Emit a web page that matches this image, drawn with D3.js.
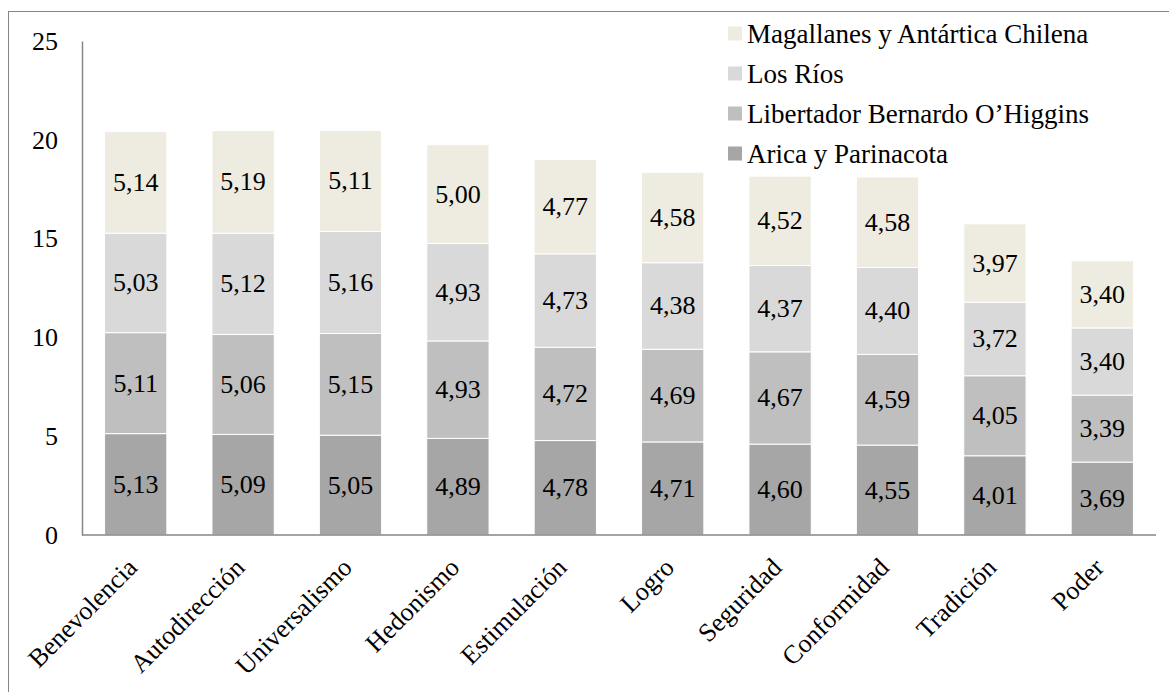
<!DOCTYPE html>
<html><head><meta charset="utf-8">
<script src="https://cdn.jsdelivr.net/npm/d3@7"></script>
<style>body{margin:0;background:#fff}svg{display:block}</style>
</head><body><svg id="c" width="1169" height="692"></svg>
<script>
const categories = ["Benevolencia","Autodirección","Universalismo","Hedonismo","Estimulación","Logro","Seguridad","Conformidad","Tradición","Poder"];
const seriesNames = ["Arica y Parinacota","Libertador Bernardo O’Higgins","Los Ríos","Magallanes y Antártica Chilena"];
const arica = [5.13,5.09,5.05,4.89,4.78,4.71,4.60,4.55,4.01,3.69];
const ohiggins = [5.11,5.06,5.15,4.93,4.72,4.69,4.67,4.59,4.05,3.39];
const losRios = [5.03,5.12,5.16,4.93,4.73,4.38,4.37,4.40,3.72,3.40];
const magallanes = [5.14,5.19,5.11,5.00,4.77,4.58,4.52,4.58,3.97,3.40];
const yTicks = [0,5,10,15,20,25];
const colors = ["#a6a6a6","#bfbfbf","#d9d9d9","#eeece1"];

const FONT = '"Liberation Serif"';
const FS = 26;
const svg = d3.select("#c");
const seriesVals = [arica, ohiggins, losRios, magallanes];
const table = categories.map((c,i)=>{const o={cat:c}; seriesNames.forEach((s,j)=>o[s]=seriesVals[j][i]); return o;});
const stack = d3.stack().keys(seriesNames)(table);

const L=82, R=1156, T=41, B=535;
const x = d3.scaleBand().domain(categories).range([L,R]).paddingInner(0.42).paddingOuter(0.21);
const y = d3.scaleLinear().domain([0,25]).range([B,T]);

svg.append("rect").attr("x",8.5).attr("y",11.5).attr("width",1200).attr("height",700).attr("fill","none").attr("stroke","#868686").attr("stroke-width",1);

const g = svg.append("g");
stack.forEach((layer,j)=>{
  g.selectAll(null).data(layer).enter().append("rect")
    .attr("x",d=>x(d.data.cat)).attr("width",x.bandwidth())
    .attr("y",d=>y(d[1])).attr("height",d=>y(d[0])-y(d[1]))
    .attr("fill",colors[j]).attr("stroke","#fff").attr("stroke-width",1);
  g.selectAll(null).data(layer).enter().append("text")
    .attr("x",d=>x(d.data.cat)+x.bandwidth()/2).attr("y",d=>y((d[0]+d[1])/2))
    .attr("text-anchor","middle").attr("dominant-baseline","central")
    .style("font-family",FONT).style("font-size",FS+"px").attr("fill","#000")
    .text(d=>(d[1]-d[0]).toFixed(2).replace(".",","));
});

// axes
const ya = svg.append("g").attr("transform",`translate(${L},0)`).call(d3.axisLeft(y).tickValues(yTicks).tickSize(0).tickPadding(24));
ya.select(".domain").attr("stroke","#868686").attr("stroke-width",1.5);
ya.selectAll("text").style("font-family",FONT).style("font-size",FS+"px").attr("fill","#000");

const xa = svg.append("g").attr("transform",`translate(0,${B})`).call(d3.axisBottom(x).tickSize(0).tickPadding(0));
xa.select(".domain").attr("stroke","#868686").attr("stroke-width",1.5).attr("d",`M${L},0H${R}`);
xa.selectAll("text").style("font-family",FONT).style("font-size",FS+"px").attr("fill","#000")
  .attr("text-anchor","end").attr("dy",null)
  .attr("transform","translate(3,34) rotate(-45)");

// legend
const leg = svg.append("g");
const order = [3,2,1,0];
order.forEach((j,k)=>{
  const cy = 33.5 + k*40;
  leg.append("rect").attr("x",728).attr("y",cy-7).attr("width",14).attr("height",14).attr("fill",colors[j]);
  leg.append("text").attr("x",747).attr("y",cy).attr("dominant-baseline","central")
    .style("font-family",FONT).style("font-size","27px").attr("fill","#000").text(seriesNames[j]);
});
</script></body></html>
